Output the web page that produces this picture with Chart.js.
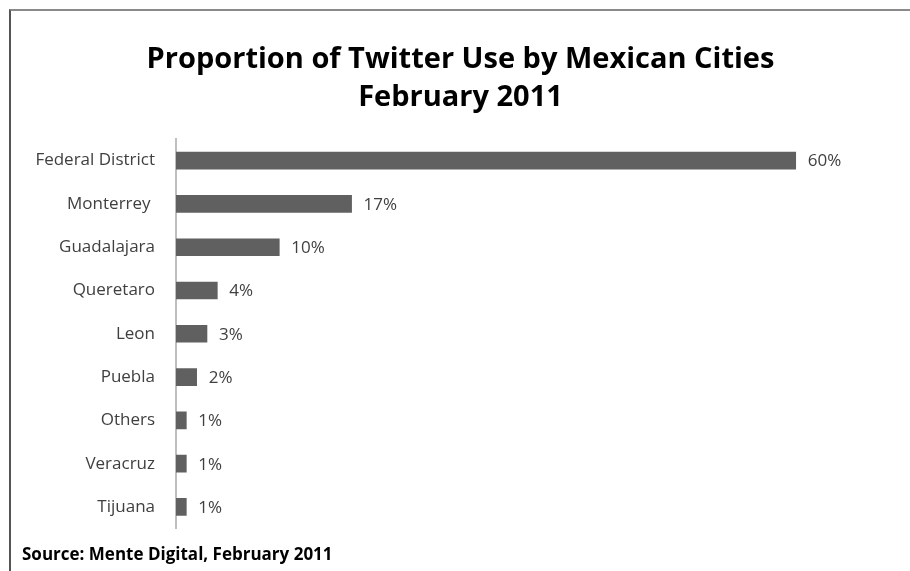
<!DOCTYPE html>
<html>
<head>
<meta charset="utf-8">
<script src="https://cdn.jsdelivr.net/npm/chart.js@4/dist/chart.umd.min.js"></script>
<style>
  html,body{margin:0;padding:0;background:#fff;}
  #wrap{position:relative;width:910px;height:571px;overflow:hidden;}
  #frame{position:absolute;left:9px;top:9px;width:910px;height:600px;
    border-top:2px solid #8a8a8a;border-left:2px solid #555;}
  canvas{position:absolute;left:0;top:0;}
</style>
</head>
<body>
<div id="wrap">
  <div id="frame"></div>
  <canvas id="c" width="910" height="571"></canvas>
</div>
<script>
// DATA
const cities=["Federal District","Monterrey ","Guadalajara","Queretaro","Leon","Puebla","Others","Veracruz","Tijuana"];
const shares=[60,17,10,4,3,2,1,1,1];
const titleLines=["Proportion of Twitter Use by Mexican Cities","February 2011"];
const sourceNote="Source: Mente Digital, February 2011";

const FONT="'Open Sans', Lato, sans-serif";

// value labels at bar ends
const valueLabels={
  id:"valueLabels",
  afterDatasetsDraw(chart){
    const ctx=chart.ctx;
    const meta=chart.getDatasetMeta(0);
    ctx.save();
    ctx.font="17px "+FONT;
    ctx.fillStyle="#404040";
    ctx.textBaseline="middle";
    meta.data.forEach((bar,i)=>{
      ctx.fillText(shares[i]+"%",bar.x+12,bar.y+1);
    });
    ctx.restore();
  }
};

new Chart(document.getElementById("c"),{
  type:"bar",
  data:{
    labels:cities,
    datasets:[{data:shares,backgroundColor:"#606060",barThickness:17}]
  },
  options:{
    indexAxis:"y",
    responsive:false,
    animation:false,
    layout:{padding:{left:22,right:11,top:0,bottom:0}},
    plugins:{
      legend:{display:false},
      tooltip:{enabled:false},
      title:{
        display:true,
        text:titleLines,
        color:"#000",
        font:{family:FONT,size:29,weight:"bold",lineHeight:1.31},
        padding:{top:41,bottom:22}
      },
      subtitle:{
        display:true,
        text:sourceNote,
        position:"bottom",
        align:"start",
        color:"#000",
        font:{family:FONT,size:17,weight:"bold",lineHeight:1.2},
        padding:{top:16,bottom:6}
      }
    },
    scales:{
      x:{display:false,min:0,max:70},
      y:{
        grid:{display:false},
        border:{display:true,color:"#bfbfbf",width:2},
        ticks:{color:"#404040",font:{family:FONT,size:17},padding:13},
        afterFit(s){s.width=154;}
      }
    }
  },
  plugins:[valueLabels]
});
</script>
</body>
</html>
